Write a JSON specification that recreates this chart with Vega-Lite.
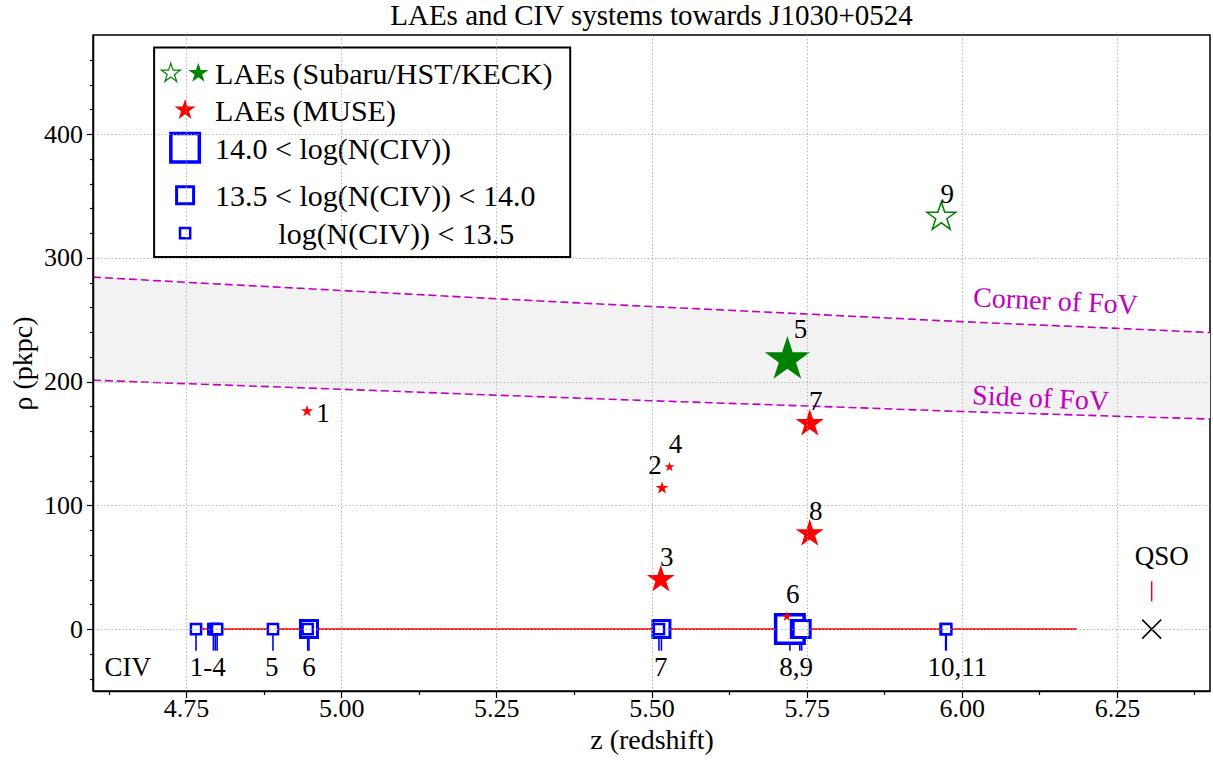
{
  "$schema": "https://vega.github.io/schema/vega-lite/v6.json",
  "width": 1117,
  "height": 656,
  "autosize": {"type": "none"},
  "padding": {"left": 93, "top": 35, "right": 3, "bottom": 69},
  "background": "white",
  "title": {"text": "LAEs and CIV systems towards J1030+0524", "font": "Liberation Serif", "fontSize": 29, "fontWeight": "normal", "color": "black", "anchor": "middle", "baseline": "alphabetic", "offset": -19, "frame": "group"},
  "config": {
    "font": "Liberation Serif",
    "view": {"stroke": "black", "strokeWidth": 1.5},
    "text": {"font": "Liberation Serif", "fontSize": 27, "color": "black"},
    "axis": {"labelFont": "Liberation Serif", "titleFont": "Liberation Serif"},
    "title": {"font": "Liberation Serif"}
  },
  "datasets": {
    "fov": [
      {"z": 4.6, "side": 201.1, "corner": 284.4},
      {"z": 4.75, "side": 198.3, "corner": 280.2},
      {"z": 5.0, "side": 193.8, "corner": 273.6},
      {"z": 5.25, "side": 189.0, "corner": 266.9},
      {"z": 5.5, "side": 184.5, "corner": 260.6},
      {"z": 5.75, "side": 180.3, "corner": 254.6},
      {"z": 6.0, "side": 175.8, "corner": 248.4},
      {"z": 6.25, "side": 172.0, "corner": 243.0},
      {"z": 6.4, "side": 169.7, "corner": 239.6}
    ],
    "fovlabels": [
      {"text": "Corner of FoV", "z": 6.151, "rho": 264.1},
      {"text": "Side of FoV", "z": 6.127, "rho": 185.7}
    ],
    "sightline": [{"z": 4.766, "z_end": 6.185}],
    "civ": [
      {"sys": "8", "z": 5.723, "logN": 14.3},
      {"sys": "6", "z": 4.948, "logN": 13.8},
      {"sys": "7", "z": 5.516, "logN": 13.8},
      {"sys": "9", "z": 5.739, "logN": 13.7},
      {"sys": "9", "z": 5.742, "logN": 13.7},
      {"sys": "1", "z": 4.766, "logN": 13.3},
      {"sys": "2", "z": 4.794, "logN": 13.3},
      {"sys": "3", "z": 4.797, "logN": 13.2},
      {"sys": "4", "z": 4.8, "logN": 13.3},
      {"sys": "5", "z": 4.89, "logN": 13.3},
      {"sys": "6", "z": 4.946, "logN": 13.2},
      {"sys": "7", "z": 5.512, "logN": 13.3},
      {"sys": "10", "z": 5.974, "logN": 13.3},
      {"sys": "11", "z": 5.975, "logN": 13.3}
    ],
    "civlabels": [
      {"label": "CIV", "z": 4.656},
      {"label": "1-4", "z": 4.785},
      {"label": "5", "z": 4.888},
      {"label": "6", "z": 4.948},
      {"label": "7", "z": 5.515},
      {"label": "8,9", "z": 5.733},
      {"label": "10,11", "z": 5.993}
    ],
    "qso": [{"z": 6.306, "rho": 0, "label": "QSO"}],
    "laes": [
      {"id": "1", "z": 4.945, "rho": 176, "survey": "MUSE", "spec": true, "L": 0.71},
      {"id": "2", "z": 5.517, "rho": 114, "survey": "MUSE", "spec": true, "L": 0.84},
      {"id": "3", "z": 5.515, "rho": 40, "survey": "MUSE", "spec": true, "L": 3.87},
      {"id": "4", "z": 5.529, "rho": 131, "survey": "MUSE", "spec": true, "L": 0.5},
      {"id": "5", "z": 5.719, "rho": 217.7, "survey": "Subaru/HST/KECK", "spec": true, "L": 10},
      {"id": "6", "z": 5.718, "rho": 10, "survey": "MUSE", "spec": true, "L": 0.5},
      {"id": "7", "z": 5.755, "rho": 166, "survey": "MUSE", "spec": true, "L": 3.87},
      {"id": "8", "z": 5.755, "rho": 77, "survey": "MUSE", "spec": true, "L": 3.87},
      {"id": "9", "z": 5.967, "rho": 333, "survey": "Subaru/HST/KECK", "spec": false, "L": 4.16}
    ],
    "legendtext": [
      {"label": "LAEs (Subaru/HST/KECK)", "z": 4.7967, "rho": 449.1},
      {"label": "LAEs (MUSE)", "z": 4.7967, "rho": 419.4},
      {"label": "14.0 < log(N(CIV))", "z": 4.7967, "rho": 388.9},
      {"label": "13.5 < log(N(CIV)) < 14.0", "z": 4.7967, "rho": 350.5},
      {"label": "log(N(CIV)) < 13.5", "z": 4.8986, "rho": 320.0}
    ]
  },
  "resolve": {"scale": {"size": "independent", "color": "independent", "strokeWidth": "independent"}, "axis": {"y": "independent"}},
  "layer": [
    {
      "data": {"name": "fov"},
      "mark": {"type": "area", "fill": "#f2f2f2", "opacity": 1},
      "encoding": {
        "x": {
          "field": "z", "type": "quantitative",
          "scale": {"domain": [4.6, 6.4], "nice": false, "zero": false},
          "axis": {
            "title": "z (redshift)", "titleFont": "Liberation Serif", "titleFontSize": 28, "titleFontWeight": "normal", "titleColor": "black", "titlePadding": 5,
            "values": [4.625, 4.6875, 4.75, 4.8125, 4.875, 4.9375, 5.0, 5.0625, 5.125, 5.1875, 5.25, 5.3125, 5.375, 5.4375, 5.5, 5.5625, 5.625, 5.6875, 5.75, 5.8125, 5.875, 5.9375, 6.0, 6.0625, 6.125, 6.1875, 6.25, 6.3125, 6.375],
            "labelExpr": "(datum.value * 4) % 1 === 0 ? format(datum.value, '.2f') : ''",
            "labelFont": "Liberation Serif", "labelColor": "black", "labelPadding": -2,
            "labelFontSize": {"condition": {"test": "(datum.value * 4) % 1 !== 0", "value": 0}, "value": 26},
            "labelOverlap": "greedy", "labelFlush": false, "labelBound": false,
            "tickSize": {"condition": {"test": "(datum.value * 4) % 1 !== 0", "value": 3.5}, "value": 6.5},
            "tickColor": "black", "tickWidth": 1.2,
            "grid": true, "gridColor": "#a8a8a8", "gridDash": [1.2, 2.4], "gridWidth": 1,
            "gridOpacity": {"condition": {"test": "(datum.value * 4) % 1 !== 0", "value": 0}, "value": 1},
            "domainColor": "black", "domainWidth": 1.5, "zindex": 1
          }
        },
        "y": {
          "field": "side", "type": "quantitative",
          "scale": {"domain": [-50, 480], "nice": false, "zero": false},
          "axis": {
            "orient": "left",
            "title": "ρ (pkpc)", "titleFont": "Liberation Serif", "titleFontSize": 28, "titleFontWeight": "normal", "titleColor": "black", "titlePadding": 6,
            "values": [0, 100, 200, 300, 400],
            "format": "d",
            "labelFont": "Liberation Serif", "labelColor": "black", "labelPadding": 4, "labelFontSize": 26,
            "labelOverlap": false, "labelFlush": false, "labelBound": false,
            "tickSize": 6.5, "tickColor": "black", "tickWidth": 1.2,
            "grid": true, "gridColor": "#a8a8a8", "gridDash": [1.2, 2.4], "gridWidth": 1,
            "domainColor": "black", "domainWidth": 1.5, "zindex": 1
          }
        },
        "y2": {"field": "corner"}
      }
    },
    {
      "data": {"name": "fov"},
      "mark": {"type": "line", "color": "#bf00bf", "strokeWidth": 1.6, "strokeDash": [8, 4]},
      "encoding": {
        "x": {"field": "z", "type": "quantitative"},
        "y": {
          "field": "corner", "type": "quantitative",
          "axis": {
            "orient": "left", "title": null, "labels": false, "grid": false, "domain": false,
            "values": [-40, -20, 20, 40, 60, 80, 120, 140, 160, 180, 220, 240, 260, 280, 320, 340, 360, 380, 420, 440, 460],
            "tickSize": 3.5, "tickColor": "black", "tickWidth": 1.2, "zindex": 1
          }
        }
      }
    },
    {
      "data": {"name": "fov"},
      "mark": {"type": "line", "color": "#bf00bf", "strokeWidth": 1.6, "strokeDash": [8, 4]},
      "encoding": {"x": {"field": "z", "type": "quantitative"}, "y": {"field": "side", "type": "quantitative", "axis": null}}
    },
    {
      "data": {"name": "fovlabels"},
      "mark": {"type": "text", "color": "#bf00bf", "angle": 2.7, "align": "center", "baseline": "middle", "fontSize": 28, "font": "Liberation Serif"},
      "encoding": {"x": {"field": "z", "type": "quantitative"}, "y": {"field": "rho", "type": "quantitative", "axis": null}, "text": {"field": "text"}}
    },
    {
      "data": {"name": "sightline"},
      "mark": {"type": "rule", "color": "#ff0000", "strokeWidth": 1.6},
      "encoding": {"x": {"field": "z", "type": "quantitative"}, "x2": {"field": "z_end"}, "y": {"datum": 0, "axis": null}}
    },
    {
      "data": {"name": "civ"},
      "mark": {"type": "rule", "color": "#0000ff", "strokeWidth": 1.6},
      "encoding": {"x": {"field": "z", "type": "quantitative"}, "y": {"datum": 0, "axis": null}, "y2": {"datum": -17.4}}
    },
    {
      "data": {"name": "civ"},
      "mark": {"type": "point", "shape": "square", "fill": "white", "fillOpacity": 1, "stroke": "#0000ff", "opacity": 1},
      "encoding": {
        "x": {"field": "z", "type": "quantitative"},
        "y": {"datum": 0, "axis": null},
        "size": {"field": "logN", "type": "quantitative", "scale": {"type": "threshold", "domain": [13.5, 14.0], "range": [104, 289, 812]}, "legend": null},
        "strokeWidth": {"field": "logN", "type": "quantitative", "scale": {"type": "threshold", "domain": [13.5, 14.0], "range": [2.5, 3, 3.5]}, "legend": null}
      }
    },
    {
      "data": {"name": "civlabels"},
      "mark": {"type": "text", "align": "center", "baseline": "middle", "font": "Liberation Serif", "fontSize": 27},
      "encoding": {"x": {"field": "z", "type": "quantitative"}, "y": {"datum": -31.7, "axis": null}, "text": {"field": "label"}}
    },
    {
      "data": {"name": "qso"},
      "mark": {"type": "point", "shape": "M-1,-1L1,1M-1,1L1,-1", "size": 361, "filled": false, "color": "black", "strokeWidth": 1.5, "opacity": 1},
      "encoding": {"x": {"field": "z", "type": "quantitative"}, "y": {"field": "rho", "type": "quantitative", "axis": null}}
    },
    {
      "data": {"name": "qso"},
      "mark": {"type": "rule", "color": "#ff0000", "strokeWidth": 1.5},
      "encoding": {"x": {"field": "z", "type": "quantitative"}, "y": {"datum": 22.4, "axis": null}, "y2": {"datum": 38.6}}
    },
    {
      "data": {"name": "qso"},
      "mark": {"type": "text", "align": "center", "baseline": "middle", "dx": 10, "dy": -72, "font": "Liberation Serif", "fontSize": 27},
      "encoding": {"x": {"field": "z", "type": "quantitative"}, "y": {"field": "rho", "type": "quantitative", "axis": null}, "text": {"field": "label"}}
    },
    {
      "data": {"name": "laes"},
      "transform": [{"filter": "datum.spec"}],
      "mark": {"type": "point", "shape": "M0,-1L-0.2245,-0.309L-0.951,-0.309L-0.3633,0.118L-0.5878,0.809L0,0.382L0.5878,0.809L0.3633,0.118L0.951,-0.309L0.2245,-0.309Z", "filled": true, "opacity": 1},
      "encoding": {
        "x": {"field": "z", "type": "quantitative"},
        "y": {"field": "rho", "type": "quantitative", "axis": null},
        "size": {"field": "L", "type": "quantitative", "scale": {"domain": [0, 10], "range": [0, 2238], "zero": true}, "legend": null},
        "color": {"field": "survey", "type": "nominal", "scale": {"domain": ["MUSE", "Subaru/HST/KECK"], "range": ["#ff0000", "#008000"]}, "legend": null}
      }
    },
    {
      "data": {"name": "laes"},
      "transform": [{"filter": "!datum.spec"}],
      "mark": {"type": "point", "shape": "M0,-1L-0.2245,-0.309L-0.951,-0.309L-0.3633,0.118L-0.5878,0.809L0,0.382L0.5878,0.809L0.3633,0.118L0.951,-0.309L0.2245,-0.309Z", "filled": false, "color": "#008000", "strokeWidth": 1.5, "opacity": 1},
      "encoding": {
        "x": {"field": "z", "type": "quantitative"},
        "y": {"field": "rho", "type": "quantitative", "axis": null},
        "size": {"field": "L", "type": "quantitative", "scale": {"domain": [0, 10], "range": [0, 2238], "zero": true}, "legend": null}
      }
    },
    {
      "data": {"name": "laes"},
      "transform": [{"filter": "datum.id !== '1' && datum.id !== '2' && datum.id !== '5'"}],
      "mark": {"type": "text", "align": "center", "baseline": "middle", "dx": 6, "dy": -22, "font": "Liberation Serif", "fontSize": 27},
      "encoding": {"x": {"field": "z", "type": "quantitative"}, "y": {"field": "rho", "type": "quantitative", "axis": null}, "text": {"field": "id"}}
    },
    {
      "data": {"name": "laes"},
      "transform": [{"filter": "datum.id === '1'"}],
      "mark": {"type": "text", "align": "center", "baseline": "middle", "dx": 16, "dy": 3, "font": "Liberation Serif", "fontSize": 27},
      "encoding": {"x": {"field": "z", "type": "quantitative"}, "y": {"field": "rho", "type": "quantitative", "axis": null}, "text": {"field": "id"}}
    },
    {
      "data": {"name": "laes"},
      "transform": [{"filter": "datum.id === '2'"}],
      "mark": {"type": "text", "align": "center", "baseline": "middle", "dx": -7, "dy": -22, "font": "Liberation Serif", "fontSize": 27},
      "encoding": {"x": {"field": "z", "type": "quantitative"}, "y": {"field": "rho", "type": "quantitative", "axis": null}, "text": {"field": "id"}}
    },
    {
      "data": {"name": "laes"},
      "transform": [{"filter": "datum.id === '5'"}],
      "mark": {"type": "text", "align": "center", "baseline": "middle", "dx": 13, "dy": -30, "font": "Liberation Serif", "fontSize": 27},
      "encoding": {"x": {"field": "z", "type": "quantitative"}, "y": {"field": "rho", "type": "quantitative", "axis": null}, "text": {"field": "id"}}
    },
    {
      "data": {"values": [{}]},
      "mark": {"type": "rect", "fill": "white", "stroke": "black", "strokeWidth": 2},
      "encoding": {"x": {"datum": 4.6985}, "x2": {"datum": 5.369}, "y": {"datum": 470.0, "axis": null}, "y2": {"datum": 300.6}}
    },
    {
      "data": {"values": [{}]},
      "mark": {"type": "point", "shape": "M0,-1L-0.2245,-0.309L-0.951,-0.309L-0.3633,0.118L-0.5878,0.809L0,0.382L0.5878,0.809L0.3633,0.118L0.951,-0.309L0.2245,-0.309Z", "filled": false, "color": "#008000", "strokeWidth": 1.2, "size": 399, "opacity": 1},
      "encoding": {"x": {"datum": 4.7254}, "y": {"datum": 449.1, "axis": null}}
    },
    {
      "data": {"values": [{}]},
      "mark": {"type": "point", "shape": "M0,-1L-0.2245,-0.309L-0.951,-0.309L-0.3633,0.118L-0.5878,0.809L0,0.382L0.5878,0.809L0.3633,0.118L0.951,-0.309L0.2245,-0.309Z", "filled": true, "color": "#008000", "size": 442, "opacity": 1},
      "encoding": {"x": {"datum": 4.7698}, "y": {"datum": 449.1, "axis": null}}
    },
    {
      "data": {"values": [{}]},
      "mark": {"type": "point", "shape": "M0,-1L-0.2245,-0.309L-0.951,-0.309L-0.3633,0.118L-0.5878,0.809L0,0.382L0.5878,0.809L0.3633,0.118L0.951,-0.309L0.2245,-0.309Z", "filled": true, "color": "#ff0000", "size": 487, "opacity": 1},
      "encoding": {"x": {"datum": 4.7484}, "y": {"datum": 419.4, "axis": null}}
    },
    {
      "data": {"values": [{}]},
      "mark": {"type": "point", "shape": "square", "fill": "white", "stroke": "#0000ff", "strokeWidth": 3.5, "size": 812, "opacity": 1},
      "encoding": {"x": {"datum": 4.7484}, "y": {"datum": 388.9, "axis": null}}
    },
    {
      "data": {"values": [{}]},
      "mark": {"type": "point", "shape": "square", "fill": "white", "stroke": "#0000ff", "strokeWidth": 3, "size": 289, "opacity": 1},
      "encoding": {"x": {"datum": 4.7484}, "y": {"datum": 350.5, "axis": null}}
    },
    {
      "data": {"values": [{}]},
      "mark": {"type": "point", "shape": "square", "fill": "white", "stroke": "#0000ff", "strokeWidth": 2.5, "size": 104, "opacity": 1},
      "encoding": {"x": {"datum": 4.7484}, "y": {"datum": 320.0, "axis": null}}
    },
    {
      "data": {"name": "legendtext"},
      "mark": {"type": "text", "align": "left", "baseline": "middle", "dy": 2, "fontSize": 30, "font": "Liberation Serif"},
      "encoding": {"x": {"field": "z", "type": "quantitative"}, "y": {"field": "rho", "type": "quantitative", "axis": null}, "text": {"field": "label"}}
    }
  ]
}
